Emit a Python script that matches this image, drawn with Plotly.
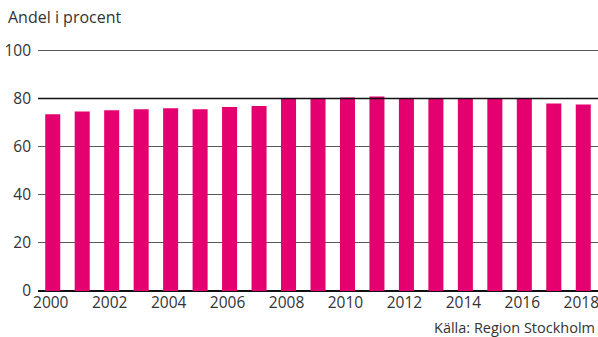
import plotly.graph_objects as go

years = list(range(2000, 2019))
values = [73.4, 74.6, 75.1, 75.5, 75.9, 75.5, 76.4, 76.8, 79.8, 79.8,
          80.4, 80.8, 80.0, 80.0, 80.0, 80.0, 79.8, 77.9, 77.5]
x_ticks = list(range(2000, 2019, 2))
y_ticks = [0, 20, 40, 60, 80, 100]
ref_level = 80

BAR = "#E5006F"
TXT = "#333333"
FONT = "Open Sans"

fig = go.Figure(go.Bar(x=years, y=values, marker_color=BAR, marker_line_width=0))

fig.update_layout(
    width=598, height=337,
    margin=dict(l=38, r=0, t=43, b=46),
    paper_bgcolor="white", plot_bgcolor="white",
    bargap=0.49,
    showlegend=False,
    font=dict(family=FONT, size=15, color=TXT),
    xaxis=dict(
        tickmode="array", tickvals=x_ticks, ticktext=[str(t) for t in x_ticks],
        range=[1999.5, 2018.5], showgrid=False, zeroline=False, showline=False,
        ticks="", tickfont=dict(size=15.5, color=TXT), ticklabeloverflow="allow",
        ticklabelshift=-2,
    ),
    yaxis=dict(
        tickmode="array", tickvals=y_ticks, range=[0, 103],
        showgrid=True, gridcolor="#5a5a5a", gridwidth=1,
        zeroline=True, zerolinecolor="#111111", zerolinewidth=2,
        showline=False, ticks="", ticklabelstandoff=6,
        tickfont=dict(size=15.5, color=TXT),
    ),
    annotations=[
        dict(text="Andel i procent", x=0, xref="paper", xanchor="left", xshift=-32,
             y=1, yref="paper", yanchor="bottom", yshift=13, showarrow=False,
             font=dict(size=16, color=TXT)),
        dict(text="Källa: Region Stockholm", x=1, xref="paper", xanchor="right", xshift=-1,
             y=0, yref="paper", yanchor="top", yshift=-25, showarrow=False,
             font=dict(size=14.5, color=TXT)),
    ],
    shapes=[
        dict(type="line", xref="paper", x0=0, x1=1, yref="y", y0=ref_level, y1=ref_level,
             line=dict(color="#111111", width=1.5), layer="above"),
    ],
)

fig.write_html("out.html")
